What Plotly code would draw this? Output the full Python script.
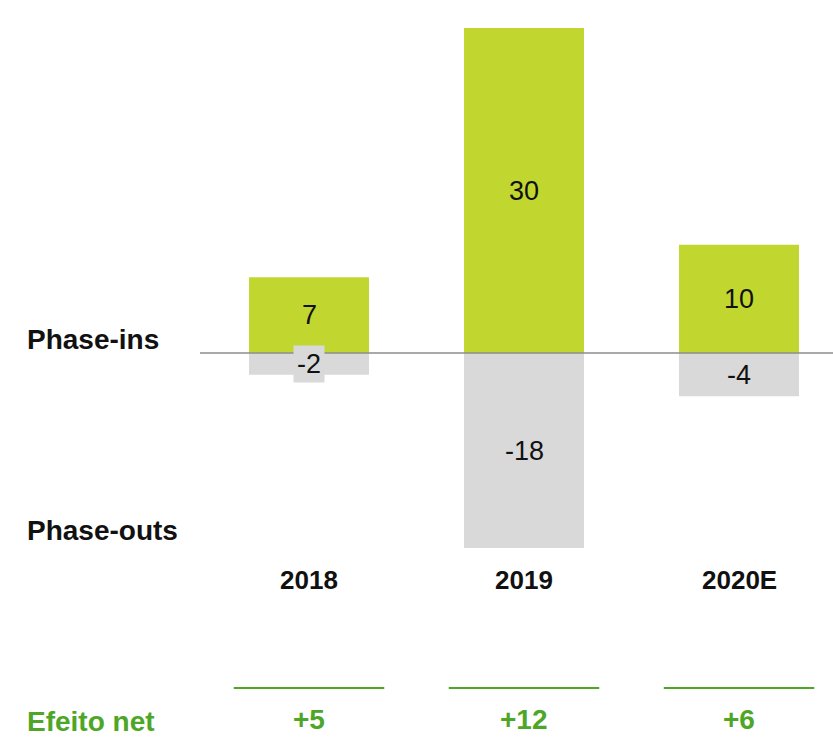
import plotly.graph_objects as go

# Data
years = ["2018", "2019", "2020E"]
phase_ins = [7, 30, 10]
phase_outs = [-2, -18, -4]
net = [i + o for i, o in zip(phase_ins, phase_outs)]

GREEN_BAR = "#C1D72F"
GREY_BAR = "#D9D9D9"
GREEN_TXT = "#4EA626"
FONT = "Liberation Sans, Arial, sans-serif"

W, H = 833, 739
pos = list(range(len(years)))

fig = go.Figure()
fig.add_trace(go.Bar(x=pos, y=phase_ins, marker=dict(color=GREEN_BAR, line=dict(width=0)),
                     width=0.558, hoverinfo="skip"))
fig.add_trace(go.Bar(x=pos, y=phase_outs, marker=dict(color=GREY_BAR, line=dict(width=0)),
                     width=0.558, hoverinfo="skip"))

annotations = []
# value labels centred in each bar
for k, v in zip(pos, phase_ins):
    annotations.append(dict(x=k, y=v / 2, text=str(v), showarrow=False,
                            xanchor="center", yanchor="middle",
                            font=dict(family=FONT, size=27, color="#111111")))
for k, v in zip(pos, phase_outs):
    small = abs(v) < 3
    annotations.append(dict(x=k, y=v / 2, text=str(v), showarrow=False,
                            xanchor="center", yanchor="middle",
                            font=dict(family=FONT, size=27, color="#111111"),
                            bgcolor=GREY_BAR if small else None, borderpad=3))
# category labels
for k, yr in zip(pos, years):
    annotations.append(dict(x=k, y=1 - 580 / H, yref="paper", text=f"<b>{yr}</b>",
                            xanchor="center", yanchor="middle", showarrow=False,
                            font=dict(family=FONT, size=26, color="#111111")))
# net effect
for k, n in zip(pos, net):
    annotations.append(dict(x=k, y=1 - 719 / H, yref="paper", text=f"<b>{n:+d}</b>",
                            xanchor="center", yanchor="middle", showarrow=False,
                            font=dict(family=FONT, size=28, color=GREEN_TXT)))
# row labels
for txt, ypx, col in [("Phase-ins", 339, "#111111"), ("Phase-outs", 530, "#111111"),
                      ("Efeito net", 721, GREEN_TXT)]:
    annotations.append(dict(x=25 / W, xref="paper", xanchor="left", y=1 - ypx / H, yref="paper",
                            yanchor="middle", text=f"<b>{txt}</b>", showarrow=False,
                            font=dict(family=FONT, size=28, color=col)))

shapes = [dict(type="line", xref="paper", yref="y", x0=200 / W, x1=1, y0=0, y1=0,
               line=dict(color="#8C8C8C", width=1.5), layer="above")]
for k in pos:
    shapes.append(dict(type="line", xref="x", yref="paper", x0=k - 0.35, x1=k + 0.35,
                       y0=1 - 688 / H, y1=1 - 688 / H, line=dict(color=GREEN_TXT, width=2)))

px_per_unit = 325 / 30
fig.update_layout(
    width=W, height=H, margin=dict(l=0, r=0, t=0, b=0),
    paper_bgcolor="white", plot_bgcolor="white", barmode="relative", showlegend=False,
    xaxis=dict(range=[-309 / 215, (W - 309) / 215], visible=False),
    yaxis=dict(range=[-(H - 353) / px_per_unit, 353 / px_per_unit], visible=False),
    annotations=annotations, shapes=shapes,
)
fig.write_html("out.html")
